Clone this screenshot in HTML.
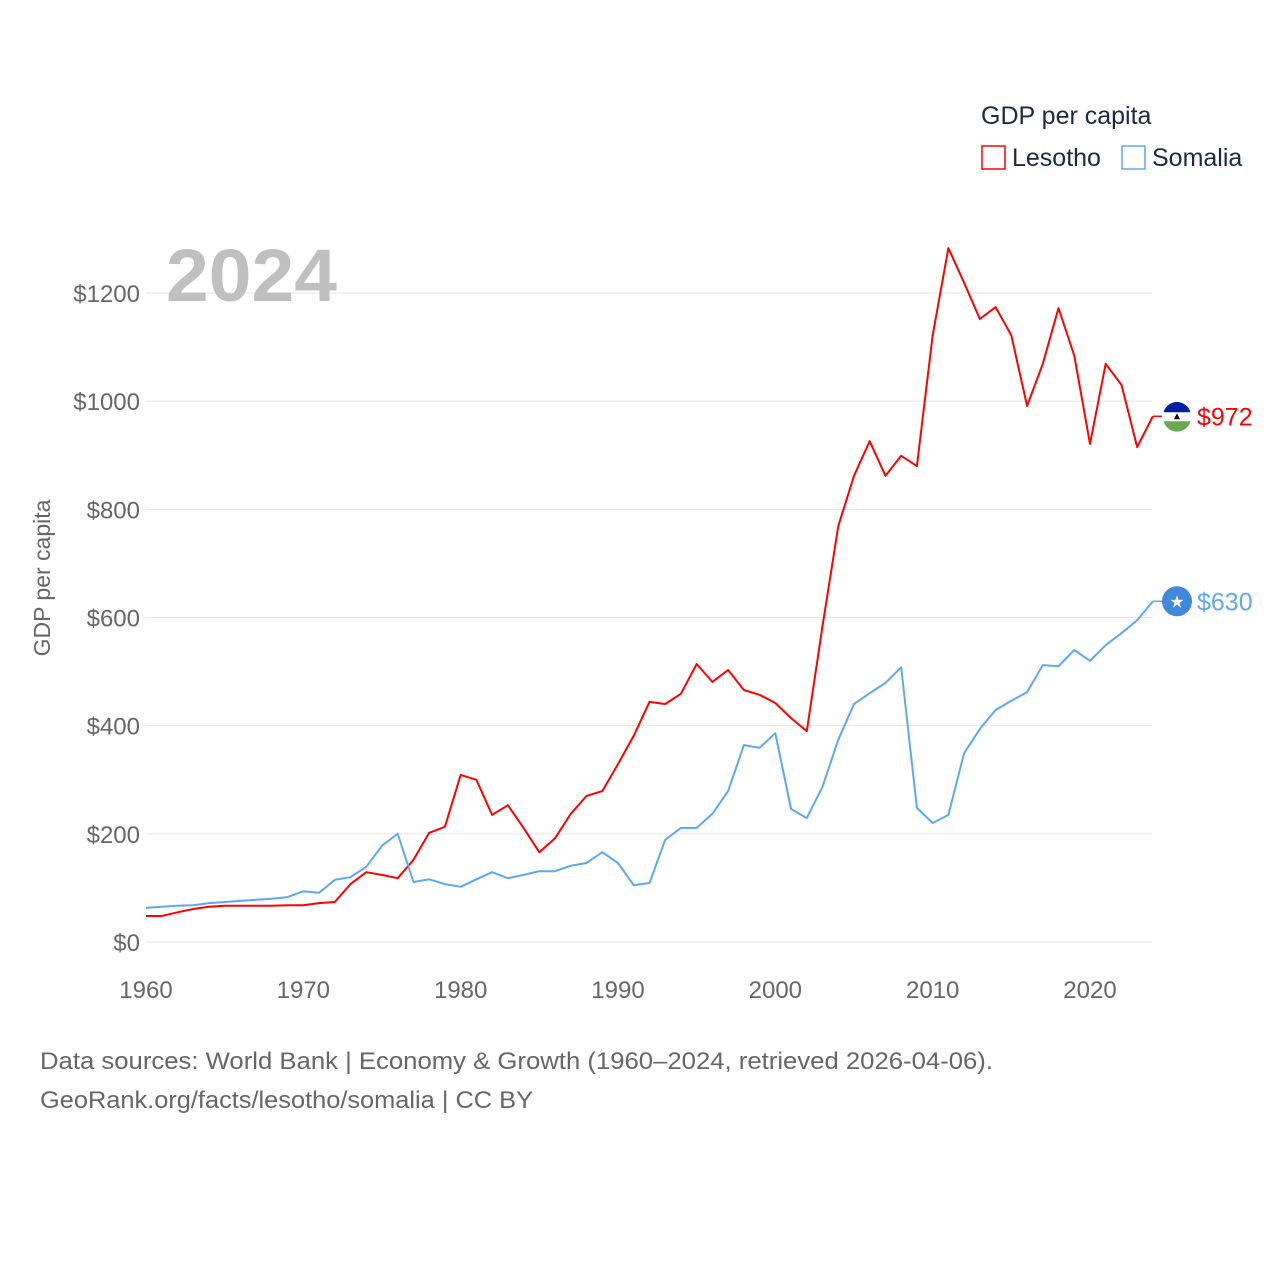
<!DOCTYPE html>
<html><head><meta charset="utf-8"><style>
body{margin:0;background:#fff;}
svg text{font-family:"Liberation Sans",sans-serif;}
</style></head><body>
<svg width="1280" height="1280" viewBox="0 0 1280 1280" xmlns="http://www.w3.org/2000/svg">
<g id="grid"></g>
<g id="yticks"></g>
<g id="xticks"></g>
<text x="166" y="301" font-size="74" font-weight="bold" fill="#c0c0c0" textLength="171" lengthAdjust="spacingAndGlyphs">2024</text>
<text transform="translate(50,578) rotate(-90)" font-size="23" fill="#666" text-anchor="middle">GDP per capita</text>
<g id="series"></g>
<g>
<text x="981" y="124" font-size="25" fill="#1a2a44">GDP per capita</text>
<g><rect x="982" y="146" width="23" height="23" fill="none" stroke="#ff0000" stroke-width="1.5"/><text x="1012" y="166" font-size="25" fill="#1a2a44">Lesotho</text></g>
<g><rect x="1122" y="146" width="23" height="23" fill="none" stroke="#5ea8ee" stroke-width="1.5"/><text x="1152" y="166" font-size="25" fill="#1a2a44">Somalia</text></g>
</g>
<text x="40" y="1069" font-size="24" fill="#666" textLength="953" lengthAdjust="spacingAndGlyphs">Data sources: World Bank | Economy &amp; Growth (1960–2024, retrieved 2026-04-06).</text>
<text x="40" y="1108" font-size="24" fill="#666" textLength="493" lengthAdjust="spacingAndGlyphs">GeoRank.org/facts/lesotho/somalia | CC BY</text>
</svg>
<script>
const years=[];for(let y=1960;y<=2024;y++)years.push(y);
const lesotho=[48,48,55,61,65,67,67,67,67,68,68,72,74,107,129,124,118,152,202,213,309,300,235,253,211,166,192,237,270,279,329,381,444,440,459,514,481,503,466,457,442,414,390,584,769,862,926,862,899,880,1122,1283,1219,1152,1174,1122,991,1069,1172,1084,921,1069,1030,915,972];
const somalia=[63,65,67,68,72,74,76,78,80,83,94,91,115,120,139,178,200,111,116,107,102,116,129,118,124,131,131,141,146,166,146,105,109,189,211,211,237,279,364,359,386,246,229,287,374,440,460,479,508,248,220,235,349,394,429,446,462,512,510,540,520,549,571,595,630];
const yTicks=[0,200,400,600,800,1000,1200];
const xTicks=[1960,1970,1980,1990,2000,2010,2020];
const NS="http://www.w3.org/2000/svg";
const X=y=>146+(y-1960)*944/60;
const Y=v=>942-v*649/1200;
function mk(t,a,p){const e=document.createElementNS(NS,t);for(const k in a)e.setAttribute(k,a[k]);p.appendChild(e);return e;}
const grid=document.getElementById('grid'),yt=document.getElementById('yticks'),xt=document.getElementById('xticks'),se=document.getElementById('series');
yTicks.forEach(v=>{
const l=mk('line',{x1:146,x2:1152,y1:Y(v),y2:Y(v),stroke:'#e6e6e6','stroke-width':1},grid);


const t=mk('text',{x:140,y:Y(v)+9,'font-size':24,fill:'#666','text-anchor':'end'},yt);t.textContent='$'+v;


});
xTicks.forEach(v=>{
const t=mk('text',{x:X(v),y:998,'font-size':24,fill:'#666','text-anchor':'middle'},xt);t.textContent=v;


});
function line(data,color,name){
const d=data.map((v,i)=>(i?'L':'M')+X(years[i]).toFixed(1)+','+Y(v).toFixed(1)).join('');
const p=mk('path',{d:d,fill:'none',stroke:color,'stroke-width':2,'stroke-linejoin':'round'},se);


const last=data[data.length-1],ly=Y(last);
mk('line',{x1:X(2024),x2:X(2024)+9,y1:ly,y2:ly,stroke:color,'stroke-width':1.5},se);
return ly;
}
const ly1=line(lesotho,'#ff0000','lesotho');
const ly2=line(somalia,'#5ea8ee','somalia');
const f1=mk('g',{},se);


mk('circle',{cx:1177,cy:ly1,r:14,fill:'#fff'},f1);
mk('path',{d:`M1163.5,${ly1-4} A14,14 0 0 1 1190.5,${ly1-4} Z`,fill:'#00209f'},f1);
mk('path',{d:`M1163.5,${ly1+5} A14,14 0 0 0 1190.5,${ly1+5} Z`,fill:'#6aa84f'},f1);
mk('path',{d:`M1174,${ly1+3} L1177,${ly1-3} L1180,${ly1+3} Z`,fill:'#000'},f1);
const t1=mk('text',{x:1197,y:ly1+9,'font-size':25,fill:'#ff0000'},se);t1.textContent='$'+lesotho[lesotho.length-1];


const f2=mk('g',{},se);


mk('circle',{cx:1177,cy:ly2,r:15,fill:'#4189dd'},f2);
const st=mk('text',{x:1177,y:ly2+6,'font-size':17,fill:'#fff','text-anchor':'middle'},f2);st.textContent='★';
const t2=mk('text',{x:1197,y:ly2+9,'font-size':25,fill:'#5ea8ee'},se);t2.textContent='$'+somalia[somalia.length-1];


</script>
</body></html>
